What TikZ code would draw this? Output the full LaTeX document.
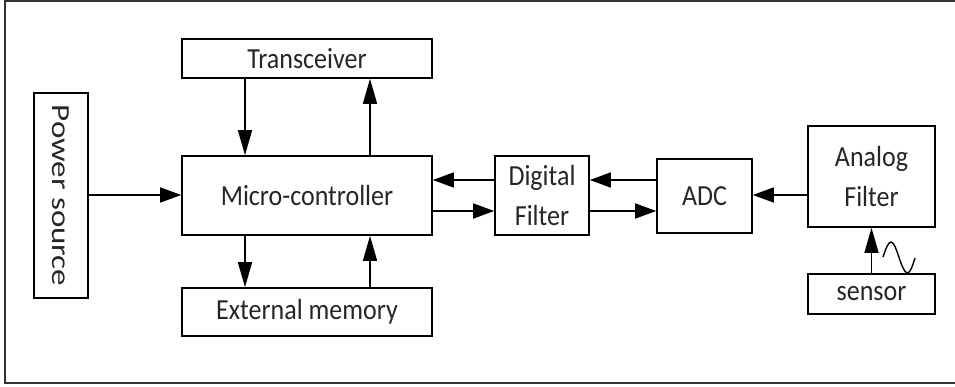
\documentclass[tikz,border=0pt]{standalone}
\usepackage{fontspec}
\usepackage{graphicx}
\setmainfont{Carlito}
\usetikzlibrary{arrows.meta,calc}
\newcommand{\vsc}[1]{\scalebox{1}[1.12]{#1}}
\begin{document}
\begin{tikzpicture}[x=1pt,y=-1pt,
  blk/.style={draw=black,line width=1.6pt,rectangle,inner sep=0pt,align=center,
     font=\fontsize{26}{40}\selectfont,text=black!85},
  arrh/.style={line width=1.5pt,-{Triangle[length=21pt,width=15pt]}},
  arrv/.style={line width=1.5pt,-{Triangle[length=25pt,width=14pt]}},
  frm/.style={line width=1.8pt,draw=black!80}]
\useasboundingbox (0,0) rectangle (955,387);
\draw[frm] (960,1) -- (5,1) -- (5,383) -- (960,383);
\node[blk,minimum width=250pt,minimum height=39pt] (trans) at (307,58.5) {\vsc{Transceiver}};
\node[blk,minimum width=250pt,minimum height=79pt] (mc) at (307,195.5) {\vsc{Micro-controller}};
\node[blk,minimum width=250pt,minimum height=48pt] (mem) at (307,312) {\vsc{External memory}};
\node[blk,minimum width=205pt,minimum height=54pt,rotate=-90] (pow) at (61,195.5) {\scalebox{1.27}[1]{Power source}};
\node[blk,minimum width=94pt,minimum height=79pt] (df) at (542,195.5) {\vsc{Digital}\\\vsc{Filter}};
\node[blk,minimum width=95pt,minimum height=74pt] (adc) at (704.5,196) {\vsc{ADC}};
\node[blk,minimum width=127pt,minimum height=101pt] (af) at (871.5,176.5) {\vsc{Analog}\\\vsc{Filter}};
\node[blk,minimum width=127pt,minimum height=40pt] (sen) at (871.5,294) {\vsc{sensor}};
\coordinate (xl) at (245,0);
\coordinate (xr) at (370,0);
\coordinate (yu) at (0,180);
\coordinate (yd) at (0,211);
\coordinate (ym) at (0,195);
\draw[arrv] (trans.south -| xl) -- (mc.north -| xl);
\draw[arrv] (mc.north -| xr) -- (trans.south -| xr);
\draw[arrv] (mc.south -| xl) -- (mem.north -| xl);
\draw[arrv] (mem.north -| xr) -- (mc.south -| xr);
\draw[arrh] (pow.north |- ym) -- (mc.west |- ym);
\draw[arrh] (df.west |- yu) -- (mc.east |- yu);
\draw[arrh] (mc.east |- yd) -- (df.west |- yd);
\draw[arrh] (adc.west |- yu) -- (df.east |- yu);
\draw[arrh] (df.east |- yd) -- (adc.west |- yd);
\draw[arrh] (af.west |- ym) -- (adc.east |- ym);
\draw[arrv] (sen.north) -- (af.south);
\draw[line width=1.4pt] (883,257) sin (891,242) cos (899,257.5) sin (907.5,273) cos (915,258);
\end{tikzpicture}
\end{document}
